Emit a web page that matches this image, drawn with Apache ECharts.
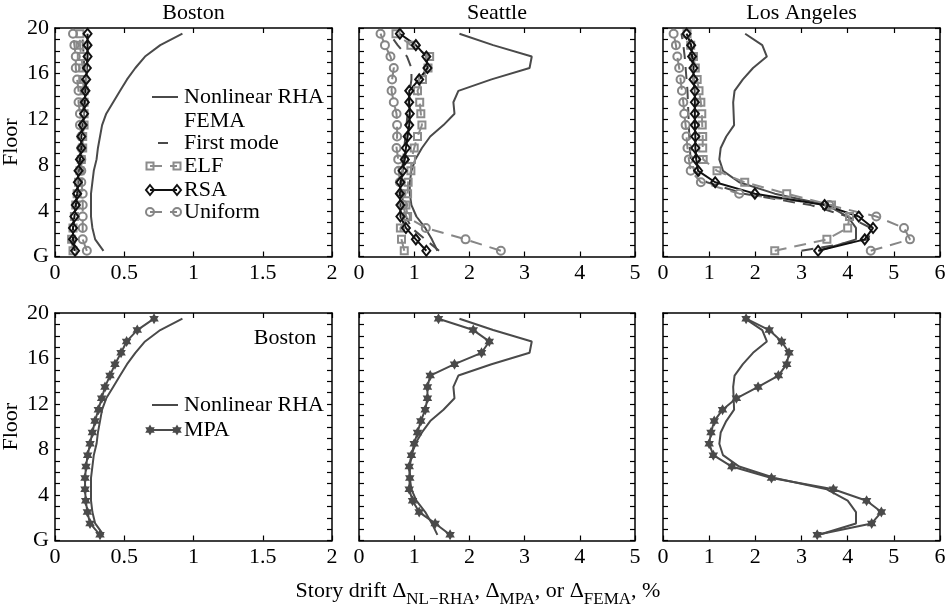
<!DOCTYPE html>
<html><head><meta charset="utf-8">
<script src="https://cdn.jsdelivr.net/npm/echarts@6/dist/echarts.min.js"></script>
<style>html,body{margin:0;padding:0;background:#fff}#c{width:951px;height:613px}</style>
</head><body><div id="c"></div><script>
// ---------------- DATA ----------------
const floors = [0.5,1.5,2.5,3.5,4.5,5.5,6.5,7.5,8.5,9.5,10.5,11.5,12.5,13.5,14.5,15.5,16.5,17.5,18.5,19.5];
const cities = ['Boston','Seattle','Los Angeles'];
const xMax = [2,5,6];
const xInterval = [0.5,1,1];
const yLabelValues = [0,4,8,12,16,20];
const yLabelTexts = ['G','4','8','12','16','20'];

// Boston
const bostonNL      = [0.35,0.29,0.27,0.26,0.26,0.26,0.27,0.28,0.30,0.31,0.325,0.34,0.37,0.42,0.47,0.52,0.58,0.65,0.76,0.92];
const bostonFirst   = [0.14,0.13,0.13,0.14,0.15,0.16,0.17,0.18,0.19,0.19,0.20,0.20,0.20,0.21,0.21,0.21,0.21,0.21,0.20,0.20];
const bostonELF     = [0.13,0.12,0.13,0.14,0.15,0.16,0.17,0.18,0.19,0.20,0.20,0.21,0.21,0.21,0.21,0.20,0.20,0.19,0.18,0.18];
const bostonRSA     = [0.145,0.13,0.13,0.14,0.15,0.16,0.165,0.17,0.18,0.19,0.19,0.20,0.21,0.215,0.22,0.225,0.23,0.235,0.235,0.235];
const bostonUniform = [0.23,0.20,0.20,0.20,0.20,0.20,0.19,0.19,0.19,0.19,0.19,0.18,0.18,0.17,0.17,0.16,0.15,0.15,0.14,0.13];
const bostonMPA     = [0.325,0.253,0.234,0.222,0.217,0.217,0.224,0.236,0.253,0.27,0.289,0.313,0.337,0.361,0.397,0.433,0.477,0.517,0.594,0.715];
// Seattle
const seattleNL      = [1.42,1.32,1.20,1.04,0.95,0.92,0.92,0.95,1.02,1.14,1.29,1.53,1.73,1.71,1.80,2.40,3.09,3.13,2.43,1.82];
const seattleFirst   = [1.45,1.20,0.95,0.85,0.80,0.78,0.77,0.78,0.80,0.82,0.84,0.86,0.88,0.90,0.92,0.95,0.95,0.87,0.70,0.55];
const seattleELF     = [0.82,0.77,0.75,0.88,0.85,0.88,0.89,0.94,0.95,1.00,1.06,1.14,1.12,1.10,1.06,1.15,1.25,1.28,0.94,0.67];
const seattleRSA     = [1.22,1.03,0.85,0.75,0.75,0.74,0.75,0.79,0.83,0.85,0.88,0.91,0.92,0.91,0.91,1.09,1.24,1.22,1.03,0.74];
const seattleUniform = [2.57,1.93,1.21,0.85,0.80,0.77,0.74,0.72,0.71,0.68,0.69,0.69,0.68,0.63,0.59,0.60,0.63,0.57,0.47,0.39];
const seattleMPA     = [1.65,1.38,1.09,0.97,0.91,0.92,0.91,0.95,1.00,1.06,1.12,1.20,1.24,1.24,1.29,1.73,2.22,2.36,2.07,1.44];
// Los Angeles
const laNL      = [3.38,4.18,4.18,4.00,3.55,2.42,1.65,1.30,1.22,1.25,1.37,1.54,1.53,1.52,1.55,1.73,1.95,2.25,2.15,1.78];
const laFirst   = [3.00,4.45,4.50,4.00,3.20,1.75,0.95,0.68,0.60,0.58,0.57,0.56,0.55,0.54,0.53,0.51,0.49,0.47,0.44,0.40];
const laELF     = [2.42,3.55,4.00,4.04,3.65,2.68,1.77,1.17,0.87,0.86,0.86,0.85,0.84,0.82,0.78,0.74,0.70,0.66,0.60,0.52];
const laRSA     = [3.36,4.37,4.55,4.24,3.50,1.99,1.13,0.76,0.72,0.70,0.70,0.69,0.69,0.69,0.69,0.66,0.66,0.63,0.61,0.51];
const laUniform = [4.50,5.35,5.22,4.62,3.60,1.65,0.82,0.60,0.56,0.53,0.51,0.49,0.46,0.44,0.41,0.38,0.35,0.31,0.28,0.23];
const laMPA     = [3.34,4.52,4.73,4.41,3.69,2.35,1.49,1.09,1.00,1.04,1.11,1.29,1.59,2.06,2.50,2.68,2.73,2.57,2.30,1.80];

// ---------------- LAYOUT / STYLE ----------------
const FONT = '"Liberation Serif", "Times New Roman", serif';
const FS = 22;
const colX = [[55,332],[359,635],[663,940]];
const rowY = [[28,256.5],[313,540.5]];
const C_NL = '#4a4a4a', C_ELF = '#8c8c8c', C_RSA = '#111111', C_UNI = '#868686', C_MPA = '#4a4a4a';
const STAR = 'path://M0,-10L2.887,-5L8.66,-5L5.774,0L8.66,5L2.887,5L0,10L-2.887,5L-8.66,5L-5.774,0L-8.66,-5L-2.887,-5Z';

const topSets = [
  {nl:bostonNL, first:bostonFirst, elf:bostonELF, rsa:bostonRSA, uni:bostonUniform},
  {nl:seattleNL, first:seattleFirst, elf:seattleELF, rsa:seattleRSA, uni:seattleUniform},
  {nl:laNL, first:laFirst, elf:laELF, rsa:laRSA, uni:laUniform}
];
const botSets = [
  {nl:bostonNL, mpa:bostonMPA},
  {nl:seattleNL, mpa:seattleMPA},
  {nl:laNL, mpa:laMPA}
];

const grids = [], xAxes = [], yAxes = [], series = [];
function pts(vals){ return vals.map((v,i)=>[v, floors[i]]); }

for (let r = 0; r < 2; r++) {
  for (let c = 0; c < 3; c++) {
    const g = grids.length;
    grids.push({left: colX[c][0], top: rowY[r][0], width: colX[c][1]-colX[c][0], height: rowY[r][1]-rowY[r][0], containLabel:false, outerBoundsMode:'none'});
    const axLine = {show:true, onZero:false, lineStyle:{color:'#000', width:1.5}};
    const tick = {show:true, inside:true, length:5, lineStyle:{color:'#000', width:1.2}};
    const baseX = {gridIndex:g, type:'value', min:0, max:xMax[c], interval:xInterval[c], splitLine:{show:false}, axisLine:axLine, axisTick:tick};
    xAxes.push(Object.assign({}, baseX, {position:'bottom', axisLabel:{show:true, color:'#000', fontFamily:FONT, fontSize:FS, margin:6}}));
    xAxes.push(Object.assign({}, baseX, {position:'top', axisLabel:{show:false}}));
    const baseY = {gridIndex:g, type:'value', min:0, max:20, interval:1, splitLine:{show:false}, axisLine:axLine, axisTick:tick};
    yAxes.push(Object.assign({}, baseY, {position:'left',
      axisLabel:{show: c === 0, color:'#000', fontFamily:FONT, fontSize:FS, margin:6,
        formatter: v => { const k = yLabelValues.indexOf(v); return k >= 0 ? yLabelTexts[k] : ''; }},
      name: c === 0 ? 'Floor' : '', nameLocation:'middle', nameGap:33, nameRotate:90,
      nameTextStyle:{color:'#000', fontFamily:FONT, fontSize:FS}}));
    yAxes.push(Object.assign({}, baseY, {position:'right', axisLabel:{show:false}}));

    const ax = {xAxisIndex: 2*g, yAxisIndex: 2*g};
    if (r === 0) {
      const d = topSets[c];
      series.push(Object.assign({type:'line', name:'Nonlinear RHA', data:pts(d.nl), symbol:'none', lineStyle:{color:C_NL, width:2}}, ax));
      series.push(Object.assign({type:'line', name:'First mode', data:pts(d.first), symbol:'none', lineStyle:{color:C_NL, width:2, type:[12,8]}}, ax));
      series.push(Object.assign({type:'line', name:'ELF', data:pts(d.elf), symbol:'rect', symbolSize:7,
        itemStyle:{color:'none', borderColor:C_ELF, borderWidth:2}, lineStyle:{color:C_ELF, width:2, type:[12,8]}}, ax));
      series.push(Object.assign({type:'line', name:'Uniform', data:pts(d.uni), symbol:'circle', symbolSize:8,
        itemStyle:{color:'none', borderColor:C_UNI, borderWidth:2}, lineStyle:{color:C_UNI, width:2, type:[12,8]}}, ax));
      series.push(Object.assign({type:'line', name:'RSA', data:pts(d.rsa), symbol:'diamond', symbolSize:[8,10],
        itemStyle:{color:'none', borderColor:C_RSA, borderWidth:2}, lineStyle:{color:C_RSA, width:2}}, ax));
    } else {
      const d = botSets[c];
      series.push(Object.assign({type:'line', name:'Nonlinear RHA', data:pts(d.nl), symbol:'none', lineStyle:{color:C_NL, width:2}}, ax));
      series.push(Object.assign({type:'line', name:'MPA', data:pts(d.mpa), symbol:STAR, symbolSize:11, symbolKeepAspect:true,
        itemStyle:{color:C_MPA}, lineStyle:{color:C_MPA, width:2}}, ax));
    }
  }
}

// ---------------- GRAPHIC (titles, legends, axis title) ----------------
const graphic = [];
function gText(x, y, text, align, size){
  graphic.push({type:'text', x:x, y:y, silent:true, style:{text:text, fill:'#000', font:(size||FS)+'px '+FONT, textAlign:align||'left', textVerticalAlign:'middle'}});
}
function gLine(x1,y1,x2,y2,color,dash){
  graphic.push({type:'line', silent:true, shape:{x1,y1,x2,y2}, style:{stroke:color, lineWidth:2, lineDash:dash||null}});
}
function gRect(cx,cy,color){ graphic.push({type:'rect', silent:true, shape:{x:cx-3.5,y:cy-3.5,width:7,height:7}, style:{fill:'none', stroke:color, lineWidth:2}}); }
function gCircle(cx,cy,color){ graphic.push({type:'circle', silent:true, shape:{cx,cy,r:4}, style:{fill:'none', stroke:color, lineWidth:2}}); }
function gDiamond(cx,cy,color){ graphic.push({type:'polygon', silent:true, shape:{points:[[cx,cy-5],[cx+4,cy],[cx,cy+5],[cx-4,cy]]}, style:{fill:'none', stroke:color, lineWidth:2}}); }
function gStar(cx,cy,color){
  const s = 0.55, p = [[0,-10],[2.887,-5],[8.66,-5],[5.774,0],[8.66,5],[2.887,5],[0,10],[-2.887,5],[-8.66,5],[-5.774,0],[-8.66,-5],[-2.887,-5]];
  graphic.push({type:'polygon', silent:true, shape:{points:p.map(q=>[cx+q[0]*s, cy+q[1]*s])}, style:{fill:color}});
}

// titles
for (let c = 0; c < 3; c++) gText((colX[c][0]+colX[c][1])/2, 13, cities[c], 'center');

// top legend (Boston panel)
const lx1 = 150, lx2 = 177, tx = 184;
gLine(lx1+2, 97, lx2+1, 97, C_NL); gText(tx, 97, 'Nonlinear RHA');
gText(tx, 121, 'FEMA');
gLine(158, 143, 168, 143, C_NL); gText(tx, 143, 'First mode');
gLine(lx1, 166, lx2, 166, C_ELF, [12,8]); gRect(lx1,166,C_ELF); gRect(lx2,166,C_ELF); gText(tx, 166, 'ELF');
gLine(lx1, 190, lx2, 190, C_RSA); gDiamond(lx1,190,C_RSA); gDiamond(lx2,190,C_RSA); gText(tx, 190, 'RSA');
gLine(lx1, 212, lx2, 212, C_UNI, [12,8]); gCircle(lx1,212,C_UNI); gCircle(lx2,212,C_UNI); gText(tx, 212, 'Uniform');

// bottom legend (Boston panel)
gText(285, 338, 'Boston', 'center');
gLine(lx1+2, 405, lx2+1, 405, C_NL); gText(tx, 405, 'Nonlinear RHA');
gLine(lx1, 430, lx2, 430, C_MPA); gStar(lx1,430,C_MPA); gStar(lx2,430,C_MPA); gText(tx, 430, 'MPA');

// x-axis title with subscripts
graphic.push({type:'text', x:478, y:591, silent:true, style:{
  text:'{n|Story drift Δ}{s|NL−RHA}{n|, Δ}{s|MPA}{n|, or Δ}{s|FEMA}{n|, %}',
  textAlign:'center', textVerticalAlign:'middle',
  rich:{ n:{fontFamily:FONT, fontSize:FS, fill:'#000'}, s:{fontFamily:FONT, fontSize:17, fill:'#000', padding:[18,0,0,0]} }
}});

const chart = echarts.init(document.getElementById('c'), null, {renderer:'canvas'});
chart.setOption({
  animation:false,
  backgroundColor:'#fff',
  grid: grids, xAxis: xAxes, yAxis: yAxes, series: series, graphic: graphic
});
</script></body></html>
